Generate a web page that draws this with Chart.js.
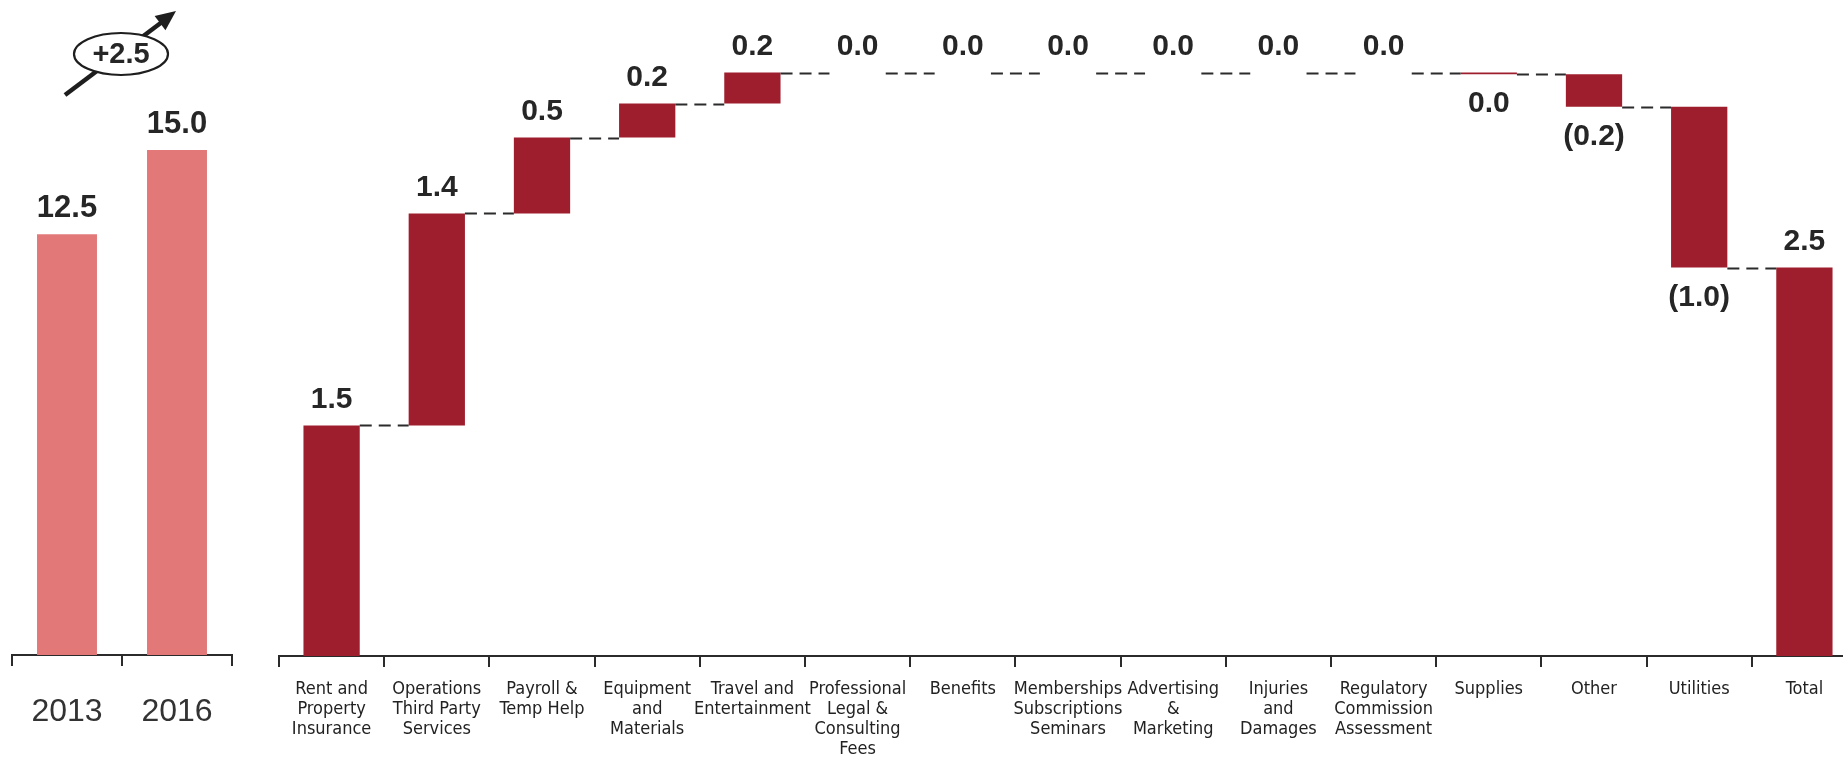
<!DOCTYPE html>
<html>
<head>
<meta charset="utf-8">
<title>Cost bridge 2013 to 2016</title>
<script src="https://cdn.jsdelivr.net/npm/chart.js@4.4.1/dist/chart.umd.min.js"></script>
<style>
  html, body { margin: 0; padding: 0; background: #ffffff; width: 1843px; height: 767px; overflow: hidden; position: relative; }
  canvas { position: absolute; top: 0; }
  #yearsChart { left: 0; }
  #bridgeChart { left: 240px; }
</style>
</head>
<body>
<canvas id="yearsChart" width="250" height="767"></canvas>
<canvas id="bridgeChart" width="1640" height="767"></canvas>
<script>
// ---- data ----
const years = ['2013', '2016'];
const yearTotals = [12.5, 15.0];

const categories = [
  ['Rent and', 'Property', 'Insurance'],
  ['Operations', 'Third Party', 'Services'],
  ['Payroll &', 'Temp Help'],
  ['Equipment', 'and', 'Materials'],
  ['Travel and', 'Entertainment'],
  ['Professional', 'Legal &', 'Consulting', 'Fees'],
  ['Benefits'],
  ['Memberships', 'Subscriptions', 'Seminars'],
  ['Advertising', '&', 'Marketing'],
  ['Injuries', 'and', 'Damages'],
  ['Regulatory', 'Commission', 'Assessment'],
  ['Supplies'],
  ['Other'],
  ['Utilities']
];
const changes = [1.49, 1.37, 0.49, 0.22, 0.20, 0.0, 0.0, 0.0, 0.0, 0.0, 0.0, -0.01, -0.21, -1.04];
const totalLabel = 'Total';

// ---- styling ----
const LABEL_FONT = "'Liberation Sans', Arial, sans-serif";
const NARROW_FONT = "'Liberation Sans Narrow', 'Arial Narrow', 'DejaVu Sans Condensed', sans-serif";
const INK = '#262626';
const BRIDGE_RED = '#9f1e2d';
const YEAR_RED = '#e27878';

// ---- waterfall ranges built from the changes ----
const bridgeLabels = categories.concat([[totalLabel]]);
const ranges = [];
const ends = [];
let running = 0;
changes.forEach(v => {
  ranges.push([running, running + v]);
  running += v;
  ends.push(running);
});
ranges.push([0, running]);
ends.push(running);
const bridgeValues = changes.concat([running]);

function fmt(v) {
  if (Math.abs(v) < 0.05) return '0.0';
  return v < 0 ? '(' + Math.abs(v).toFixed(1) + ')' : v.toFixed(1);
}

// value labels above rising bars, below falling ones
const valueLabels = {
  id: 'valueLabels',
  afterDatasetsDraw(chart, args, opts) {
    const ctx = chart.ctx;
    const meta = chart.getDatasetMeta(0);
    ctx.save();
    ctx.font = 'bold ' + opts.size + 'px ' + LABEL_FONT;
    ctx.fillStyle = INK;
    ctx.textAlign = 'center';
    ctx.textBaseline = 'middle';
    meta.data.forEach((bar, i) => {
      const v = opts.values[i];
      const top = Math.min(bar.y, bar.base);
      const bottom = Math.max(bar.y, bar.base);
      if (v < 0) {
        ctx.fillText(fmt(v), bar.x, bottom + 30);
      } else {
        ctx.fillText(fmt(v), bar.x, top - 26);
      }
    });
    ctx.restore();
  }
};

// dashed connectors between consecutive bridge bars
const connectors = {
  id: 'connectors',
  afterDatasetsDraw(chart) {
    const ctx = chart.ctx;
    const meta = chart.getDatasetMeta(0);
    const y = chart.scales.y;
    ctx.save();
    ctx.strokeStyle = '#2b2b2b';
    ctx.lineWidth = 2;
    ctx.setLineDash([12, 7]);
    for (let i = 0; i < meta.data.length - 1; i++) {
      const a = meta.data[i], b = meta.data[i + 1];
      const py = Math.round(y.getPixelForValue(ends[i])) + 0.5;
      ctx.beginPath();
      ctx.moveTo(a.x + a.width / 2, py);
      ctx.lineTo(b.x - b.width / 2, py);
      ctx.stroke();
    }
    ctx.restore();
  }
};

// change badge with arrow over the year bars
const changeBadge = {
  id: 'changeBadge',
  afterDraw(chart) {
    const ctx = chart.ctx;
    const xs = chart.scales.x;
    const cx = (xs.getPixelForValue(0) + xs.getPixelForValue(1)) / 2 - 1;
    const cy = chart.chartArea.top + 5;
    const diff = yearTotals[1] - yearTotals[0];
    ctx.save();
    ctx.strokeStyle = '#1e1e1e';
    ctx.fillStyle = '#1e1e1e';
    ctx.lineWidth = 4.5;
    const x0 = cx - 56, y0 = cy + 41, x1 = cx + 55, y1 = cy - 43;
    ctx.beginPath();
    ctx.moveTo(x0, y0);
    ctx.lineTo(x1 - 10, y1 + 8);
    ctx.stroke();
    const ang = Math.atan2(y1 - y0, x1 - x0);
    ctx.beginPath();
    ctx.moveTo(x1, y1);
    ctx.lineTo(x1 - 20 * Math.cos(ang) + 9 * Math.sin(ang), y1 - 20 * Math.sin(ang) - 9 * Math.cos(ang));
    ctx.lineTo(x1 - 20 * Math.cos(ang) - 9 * Math.sin(ang), y1 - 20 * Math.sin(ang) + 9 * Math.cos(ang));
    ctx.closePath();
    ctx.fill();
    ctx.beginPath();
    ctx.ellipse(cx, cy, 47, 21, 0, 0, Math.PI * 2);
    ctx.fillStyle = '#ffffff';
    ctx.fill();
    ctx.lineWidth = 2.2;
    ctx.stroke();
    ctx.fillStyle = INK;
    ctx.font = 'bold 29px ' + LABEL_FONT;
    ctx.textAlign = 'center';
    ctx.textBaseline = 'middle';
    ctx.fillText('+' + diff.toFixed(1), cx, cy + 1);
    ctx.restore();
  }
};

function xAxis(fontSpec, height, pad) {
  return {
    offset: true,
    border: { display: true, color: '#2b2b2b', width: 2 },
    grid: { display: true, drawOnChartArea: false, drawTicks: true, tickLength: 11, color: '#2b2b2b', lineWidth: 2, offset: true },
    ticks: { autoSkip: false, maxRotation: 0, minRotation: 0, color: fontSpec.color, font: fontSpec.font, padding: pad },
    afterFit(scale) { scale.height = height; }
  };
}

Chart.defaults.animation = false;

new Chart(document.getElementById('yearsChart'), {
  type: 'bar',
  data: {
    labels: years,
    datasets: [{ data: yearTotals, backgroundColor: YEAR_RED, categoryPercentage: 1, barPercentage: 0.545 }]
  },
  options: {
    responsive: false,
    animation: false,
    layout: { padding: { left: 12, right: 18, top: 49, bottom: 0 }, autoPadding: false },
    plugins: { legend: { display: false }, tooltip: { enabled: false }, valueLabels: { size: 31, values: yearTotals } },
    scales: {
      x: xAxis({ color: '#333333', font: { family: LABEL_FONT, size: 32 } }, 112, 27),
      y: { display: false, min: 0, max: 18 }
    }
  },
  plugins: [valueLabels, changeBadge]
});

new Chart(document.getElementById('bridgeChart'), {
  type: 'bar',
  data: {
    labels: bridgeLabels,
    datasets: [{ data: ranges, backgroundColor: BRIDGE_RED, categoryPercentage: 1, barPercentage: 0.535 }]
  },
  options: {
    responsive: false,
    animation: false,
    layout: { padding: { left: 39, right: 23, top: 37, bottom: 0 }, autoPadding: false },
    plugins: { legend: { display: false }, tooltip: { enabled: false }, valueLabels: { size: 30, values: bridgeValues } },
    scales: {
      x: xAxis({ color: '#222222', font: { family: NARROW_FONT, size: 18, lineHeight: 1.12 } }, 111, 12),
      y: { display: false, min: 0, max: 4 }
    }
  },
  plugins: [connectors, valueLabels]
});
</script>
</body>
</html>
